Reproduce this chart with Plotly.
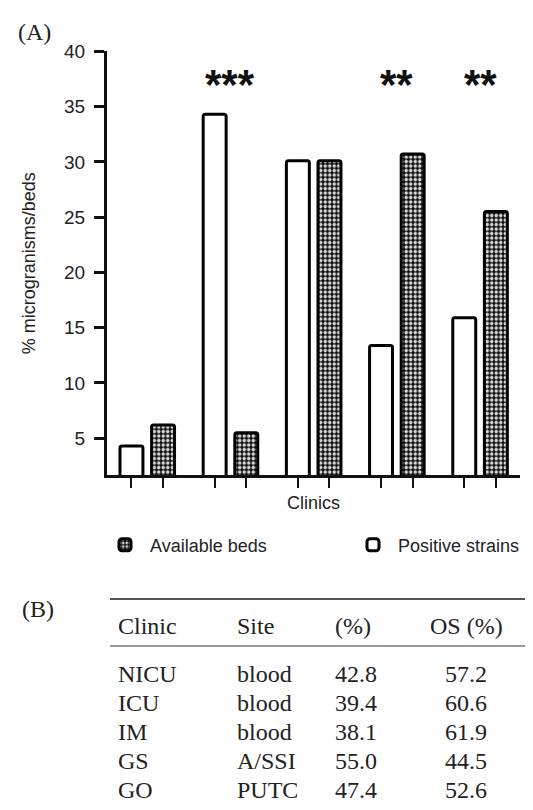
import plotly.graph_objects as go

# ---------------- data ----------------
groups = [0, 1, 2, 3, 4]
positive_strains = [4.3, 34.3, 30.1, 13.4, 15.9]
available_beds = [6.2, 5.5, 30.1, 30.7, 25.5]
significance = ["", "***", "", "**", "**"]
y_ticks = [5, 10, 15, 20, 25, 30, 35, 40]

table_header = ["Clinic", "Site", "(%)", "OS (%)"]
clinics = ["NICU", "ICU", "IM", "GS", "GO"]
sites = ["blood", "blood", "blood", "A/SSI", "PUTC"]
pct = ["42.8", "39.4", "38.1", "55.0", "47.4"]
os_pct = ["57.2", "60.6", "61.9", "44.5", "52.6"]

W, H = 533, 810


def px(x):
    return x / W


def py(y):
    return 1 - y / H


fig = go.Figure()
fig.add_trace(go.Bar(
    x=groups, y=positive_strains, name="Positive strains", legend="legend2",
    marker=dict(color="white", line=dict(color="black", width=3), cornerradius=2),
))
fig.add_trace(go.Bar(
    x=groups, y=available_beds, name="Available beds", legend="legend",
    marker=dict(color="#111", line=dict(color="black", width=3), cornerradius=2,
                pattern=dict(shape=".", fgcolor="#d8d8d8", bgcolor="#111",
                             size=4.5, solidity=0.45, fillmode="replace")),
))

# tick positions at each bar
bar_ticks = []
for g in groups:
    bar_ticks += [g - 0.19, g + 0.19]

legend_common = dict(orientation="h", yanchor="middle", xanchor="left",
                     font=dict(size=18, color="#222"), bgcolor="rgba(0,0,0,0)",
                     itemwidth=40)

fig.update_layout(
    width=W, height=H,
    margin=dict(l=0, r=0, t=0, b=0, autoexpand=False),
    paper_bgcolor="white", plot_bgcolor="white",
    barmode="group", bargap=0.24, bargroupgap=0.274,
    font=dict(family="Arial, Liberation Sans, sans-serif", size=18, color="#222"),
    showlegend=True,
    legend=dict(x=px(92), y=py(537), **legend_common),
    legend2=dict(x=px(340), y=py(537), **legend_common),
    xaxis=dict(domain=[px(99), px(512)], range=[-0.484, 4.48],
               showline=True, linewidth=3, linecolor="#111",
               tickvals=bar_ticks, ticktext=[""] * len(bar_ticks),
               ticks="outside", ticklen=10, tickwidth=2, tickcolor="#111",
               showgrid=False, zeroline=False, automargin=False,
               title=dict(text="Clinics", font=dict(size=18, color="#222"), standoff=6)),
    yaxis=dict(domain=[py(467.3), py(43.3)], range=[1.65, 40],
               showline=True, linewidth=3, linecolor="#111",
               tickvals=y_ticks, ticks="outside", ticklen=10, tickwidth=3, tickcolor="#111",
               tickfont=dict(size=19, color="#222"), ticklabelstandoff=5,
               showgrid=False, zeroline=False, automargin=False,
               title=dict(text="% microgranisms/beds", font=dict(size=18, color="#222"), standoff=24)),
)

# significance stars
for g, s in zip(groups, significance):
    if s:
        fig.add_annotation(x=g, y=37.0, xref="x", yref="y", text=f"<b>{s}</b>",
                           showarrow=False, font=dict(size=42, color="#111",
                                                      family="Arial, Liberation Sans"),
                           yanchor="middle")

# panel labels
serif = "Liberation Serif, Times New Roman, serif"
fig.add_annotation(x=px(8), y=py(24), xref="paper", yref="paper", text="(A)",
                   showarrow=False, xanchor="left", yanchor="middle",
                   font=dict(family=serif, size=24, color="#222"))
fig.add_annotation(x=px(12), y=py(601), xref="paper", yref="paper", text="(B)",
                   showarrow=False, xanchor="left", yanchor="middle",
                   font=dict(family=serif, size=24, color="#222"))

# table (booktabs style)
col_x = [108, 227, 325]
os_center = 458
header_y = 618
row_y0 = 666
row_dy = 29
tfont = dict(family=serif, size=24, color="#222")

for i, htxt in enumerate(table_header):
    if i < 3:
        fig.add_annotation(x=px(col_x[i]), y=py(header_y), xref="paper", yref="paper",
                           text=htxt, showarrow=False, xanchor="left", yanchor="middle", font=tfont)
    else:
        fig.add_annotation(x=px(os_center), y=py(header_y), xref="paper", yref="paper",
                           text=htxt, showarrow=False, xanchor="center", yanchor="middle", font=tfont)

for r, (c, s, p, o) in enumerate(zip(clinics, sites, pct, os_pct)):
    yy = py(row_y0 + r * row_dy)
    for i, t in enumerate([c, s, p]):
        fig.add_annotation(x=px(col_x[i]), y=yy, xref="paper", yref="paper", text=t,
                           showarrow=False, xanchor="left", yanchor="middle", font=tfont)
    fig.add_annotation(x=px(os_center), y=yy, xref="paper", yref="paper", text=o,
                       showarrow=False, xanchor="center", yanchor="middle", font=tfont)

fig.add_shape(type="line", xref="paper", yref="paper", x0=px(102), x1=1, y0=py(591), y1=py(591),
              line=dict(color="#555", width=2))
fig.add_shape(type="line", xref="paper", yref="paper", x0=px(102), x1=1, y0=py(638), y1=py(638),
              line=dict(color="#333", width=1.2))

fig.write_html("out.html")
